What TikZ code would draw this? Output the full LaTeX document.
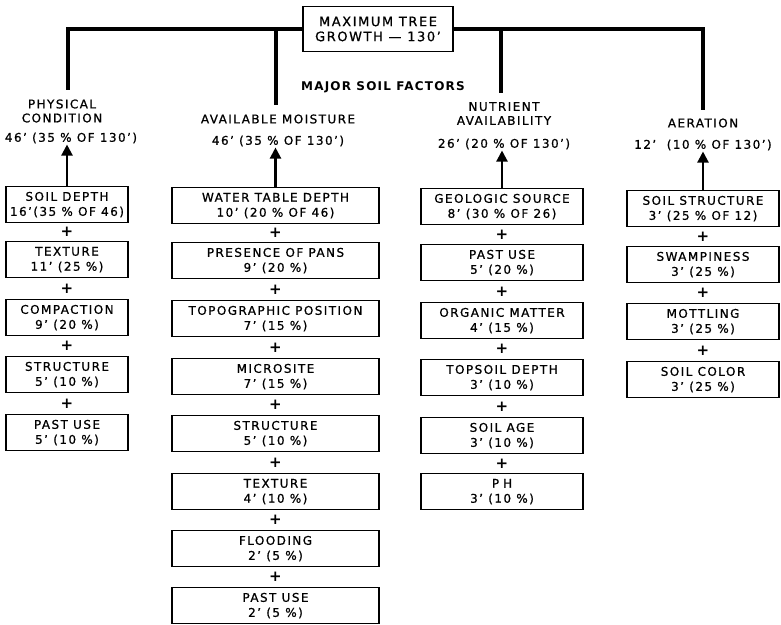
\documentclass[tikz,border=0pt]{standalone}
\usepackage{fontspec}
\usetikzlibrary{arrows.meta,calc}
\newfontfamily\lett[LetterSpace=12,FakeBold=0.8]{DejaVu Sans}
\newfontfamily\lettb[LetterSpace=10]{DejaVu Sans Bold}
\newcommand{\lf}{\lett\fontsize{12}{15}\selectfont}
\tikzset{
  x=1pt, y=-1pt,
  fbox/.style={draw, line width=1.3pt, minimum height=36pt, inner sep=0pt, align=center, font=\lf, anchor=north},
  c1/.style={fbox, minimum width=122pt},
  c2/.style={fbox, minimum width=207pt},
  c3/.style={fbox, minimum width=162pt},
  c4/.style={fbox, minimum width=152pt},
  plus/.style={font=\lettb\fontsize{15}{15}\selectfont, inner sep=0pt},
  lbl/.style={font=\lett\fontsize{12}{14}\selectfont, align=center, inner sep=1pt},
  bar/.style={line width=3.5pt},
  arr/.style={line width=2.2pt, -{Triangle[width=11pt,length=11pt]}},
}
\begin{document}
\begin{tikzpicture}
\useasboundingbox[fill=white] (0,0) rectangle (781,624);
% top
\node[draw, line width=1.3pt, minimum width=150pt, minimum height=45pt, align=center, font=\lett\fontsize{13}{15}\selectfont] (top) at (378,29) {MAXIMUM TREE\\GROWTH — 130’};
\node[font=\lettb\fontsize{12}{13}\selectfont] (major) at (383,87) {MAJOR SOIL FACTORS};
% category labels
\node[lbl] (t1) at (62,111) {PHYSICAL\\CONDITION};
\node[lbl] (v1) at (71,138) {46’ (35 \% OF 130’)};
\node[lbl] (t2) at (278,119) {AVAILABLE MOISTURE};
\node[lbl] (v2) at (278,141) {46’ (35 \% OF 130’)};
\node[lbl] (t3) at (504,113.5) {NUTRIENT\\AVAILABILITY};
\node[lbl] (v3) at (504,144) {26’ (20 \% OF 130’)};
\node[lbl] (t4) at (703,123) {AERATION};
\node[lbl] (v4) at (703,145) {12’\ \ (10 \% OF 130’)};
% bars
\coordinate (e1) at (68,90);
\coordinate (e2) at (276,105);
\coordinate (e3) at (501,93);
\coordinate (e4) at (703,110);
\draw[bar] (top.west) -| (e1);
\draw[bar] (e2 |- top.west) -- (e2);
\draw[bar] (top.east) -| (e4);
\draw[bar] (e3 |- top.east) -- (e3);
% column 1
\node[c1] (a1) at (67,186) {SOIL DEPTH\\16’(35 \% OF 46)};
\node[c1] (a2) at (67,241) {TEXTURE\\11’ (25 \%)};
\node[c1] (a3) at (67,299) {COMPACTION\\9’ (20 \%)};
\node[c1] (a4) at (67,356) {STRUCTURE\\5’ (10 \%)};
\node[c1] (a5) at (67,414) {PAST USE\\5’ (10 \%)};
% column 2
\node[c2] (b1) at (275.5,187) {WATER TABLE DEPTH\\10’ (20 \% OF 46)};
\node[c2] (b2) at (275.5,242) {PRESENCE OF PANS\\9’ (20 \%)};
\node[c2] (b3) at (275.5,300) {TOPOGRAPHIC POSITION\\7’ (15 \%)};
\node[c2] (b4) at (275.5,358) {MICROSITE\\7’ (15 \%)};
\node[c2] (b5) at (275.5,415) {STRUCTURE\\5’ (10 \%)};
\node[c2] (b6) at (275.5,473) {TEXTURE\\4’ (10 \%)};
\node[c2] (b7) at (275.5,530) {FLOODING\\2’ (5 \%)};
\node[c2] (b8) at (275.5,587) {PAST USE\\2’ (5 \%)};
% column 3
\node[c3] (d1) at (502,188) {GEOLOGIC SOURCE\\8’ (30 \% OF 26)};
\node[c3] (d2) at (502,244) {PAST USE\\5’ (20 \%)};
\node[c3] (d3) at (502,302) {ORGANIC MATTER\\4’ (15 \%)};
\node[c3] (d4) at (502,359) {TOPSOIL DEPTH\\3’ (10 \%)};
\node[c3] (d5) at (502,417) {SOIL AGE\\3’ (10 \%)};
\node[c3] (d6) at (502,473) {P\,\,H\\3’ (10 \%)};
% column 4
\node[c4] (f1) at (703,190) {SOIL STRUCTURE\\3’ (25 \% OF 12)};
\node[c4] (f2) at (703,246) {SWAMPINESS\\3’ (25 \%)};
\node[c4] (f3) at (703,303) {MOTTLING\\3’ (25 \%)};
\node[c4] (f4) at (703,361) {SOIL COLOR\\3’ (25 \%)};
% arrows
\draw[arr] (a1.north) -- (a1.north |- v1.south);
\draw[arr] (b1.north) -- (b1.north |- v2.south);
\draw[arr] (d1.north) -- (d1.north |- v3.south);
\draw[arr] (f1.north) -- (f1.north |- v4.south);
% plus signs
\foreach \c/\n in {a/4, b/7, d/5, f/3}{
  \foreach \i [evaluate=\i as \j using int(\i+1)] in {1,...,\n}{
    \node[plus] (p\c\i) at ($(\c\i.south)!0.5!(\c\j.north)$) {+};
  }
}
\end{tikzpicture}
\end{document}
